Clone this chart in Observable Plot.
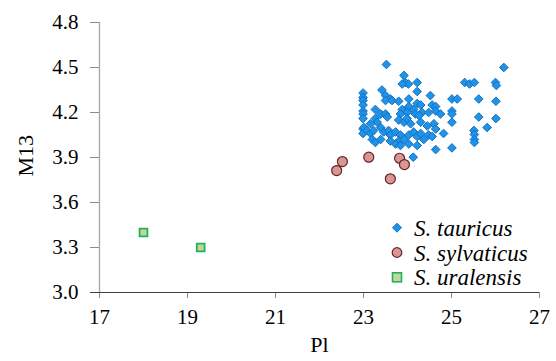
<!DOCTYPE html>
<html><head><meta charset="utf-8">
<script src="https://cdn.jsdelivr.net/npm/d3@7"></script>
<script src="https://cdn.jsdelivr.net/npm/@observablehq/plot@0.6"></script>
<style>
body{margin:0;background:#fff;}
#wrap{position:relative;width:556px;height:361px;}
#legend{position:absolute;left:385px;top:215px;}
</style></head>
<body><div id="wrap"><div id="legend"></div></div>
<script>
const tauricusPl = [23.52,26.19,23.92,23.95,24.02,24.22,23.88,25.30,25.41,25.52,26.0,26.02,23.42,24.22,
22.99,22.99,22.99,22.99,22.99,22.99,22.99,22.99,22.99,
23.5,23.61,23.5,23.65,23.8,24.03,24.52,25.01,25.13,25.62,26.01,
24.22,24.30,24.03,24.14,24.56,24.64,23.88,23.99,23.84,23.27,23.39,23.5,23.54,
24.33,24.48,24.64,24.75,24.18,24.26,25.01,25.01,25.62,26.01,25.01,
23.27,23.31,23.16,23.8,23.92,23.99,24.07,24.30,24.45,24.6,24.64,
23.01,23.08,23.16,23.23,23.39,23.46,23.57,23.61,23.73,23.84,23.80,23.92,24.03,
24.14,24.22,24.30,24.37,24.48,24.56,24.82,25.51,25.52,25.52,25.52,25.81,
23.2,23.27,23.39,23.61,23.73,23.84,24.03,24.22,24.64,25.01,24.13];
const tauricusM13 = [4.52,4.50,4.447,4.40,4.39,4.40,4.39,4.40,4.39,4.40,4.40,4.38,4.35,4.34,
4.33,4.30,4.28,4.25,4.21,4.19,4.16,4.09,4.06,
4.313,4.29,4.28,4.28,4.275,4.29,4.313,4.29,4.29,4.29,4.275,
4.26,4.25,4.24,4.22,4.25,4.24,4.22,4.20,4.19,4.22,4.19,4.19,4.17,
4.20,4.20,4.21,4.19,4.19,4.18,4.21,4.19,4.17,4.16,4.135,
4.16,4.135,4.125,4.15,4.135,4.16,4.125,4.135,4.11,4.125,4.09,
4.10,4.08,4.06,4.08,4.10,4.07,4.08,4.05,4.07,4.05,4.01,4.02,4.05,
4.07,4.04,4.06,4.02,4.05,4.04,4.06,4.08,4.053,4.02,4.0,4.10,
4.02,4.0,4.02,4.01,3.99,3.98,3.99,3.98,3.953,3.964,3.902];
const sylvaticusPl = [22.52,22.39,23.12,23.82,23.93,23.61];
const sylvaticusM13 = [3.873,3.813,3.902,3.895,3.853,3.758];
const uralensisPl = [18.0,19.3];
const uralensisM13 = [3.40,3.30];
const xTicks = [17,19,21,23,25,27];
const yTicks = [3.0,3.3,3.6,3.9,4.2,4.5,4.8];
const species = ["S. tauricus","S. sylvaticus","S. uralensis"];

const tau = tauricusPl.map((x,i)=>({x,y:tauricusM13[i]}));
const syl = sylvaticusPl.map((x,i)=>({x,y:sylvaticusM13[i]}));
const ura = uralensisPl.map((x,i)=>({x,y:uralensisM13[i]}));

const font = "'Liberation Serif', 'Times New Roman', 'DejaVu Serif', serif";
const chart = Plot.plot({
  width:556, height:361,
  marginLeft:99, marginRight:17, marginTop:22, marginBottom:69,
  style:{fontFamily:font, fontSize:"21px", color:"#000", background:"#fff"},
  x:{domain:[17,27]},
  y:{domain:[3.0,4.8]},
  marks:[
    Plot.ruleX([17],{y1:3.0,y2:4.8,stroke:"#a6a6a6",strokeWidth:1.3}),
    Plot.axisY({ticks:yTicks, tickFormat:d=>d.toFixed(1), tickSize:9, stroke:"#8c8c8c", fill:"#000", fontSize:21, fontFamily:font, tickPadding:12, label:null}),
    Plot.axisX({ticks:xTicks, tickSize:6, stroke:"#8c8c8c", fill:"#000", fontSize:21, fontFamily:font, tickPadding:11, label:null}),
    Plot.ruleY([3.0],{x1:17,x2:27,insetLeft:-9,stroke:"#404040",strokeWidth:1}),
    Plot.text(["M13"],{frameAnchor:"left",dx:-74,dy:19,rotate:-90,fontSize:22,fontFamily:font,fill:"#000"}),
    Plot.text(["Pl"],{frameAnchor:"bottom",dy:59,fontSize:22,fontFamily:font,fill:"#000"}),
    Plot.dot(tau,{x:"x",y:"y",symbol:"diamond2",r:3.9,fill:"#1f93e6",stroke:"#1170c6",strokeWidth:1}),
    Plot.dot(syl,{x:"x",y:"y",symbol:"circle",r:5,fill:"#d99694",stroke:"#632523",strokeWidth:1.2}),
    Plot.dot(ura,{x:"x",y:"y",symbol:"square",r:4.4,fill:"#c3d69b",stroke:"#22b35a",strokeWidth:1.8})
  ]
});
const wrap = document.getElementById("wrap");
wrap.insertBefore(chart, wrap.firstChild);

const swatches = [
  '<path d="M0 -4.5 L4.5 0 L0 4.5 L-4.5 0 Z" fill="#1f93e6" stroke="#1170c6"/>',
  '<circle r="4.8" fill="#d99694" stroke="#632523" stroke-width="1.2"/>',
  '<rect x="-4.5" y="-4.5" width="9" height="9" fill="#c3d69b" stroke="#22b35a" stroke-width="1.6"/>'
];
let svg = '<svg width="165" height="80" xmlns="http://www.w3.org/2000/svg" style="font-family:' + font.replace(/'/g,"&quot;") + '">';
species.forEach((s,i)=>{
  const cy = 12.7 + i*24.8;
  svg += '<g transform="translate(12,' + cy + ')">' + swatches[i] + '</g>';
  svg += '<text x="29" y="' + (cy+8) + '" font-size="23" font-style="italic" fill="#000">' + s + '</text>';
});
svg += '</svg>';
document.getElementById("legend").innerHTML = svg;
</script></body></html>
